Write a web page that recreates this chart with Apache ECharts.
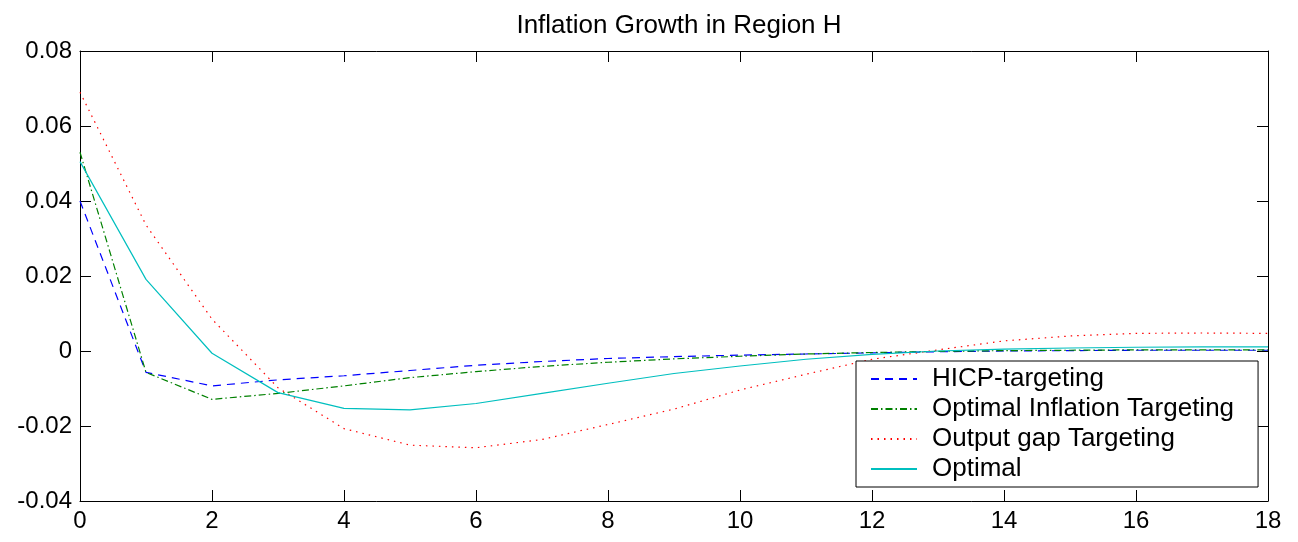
<!DOCTYPE html>
<html>
<head>
<meta charset="utf-8">
<script src="https://cdn.jsdelivr.net/npm/echarts@6/dist/echarts.min.js"></script>
<style>
  html, body { margin: 0; padding: 0; background: #fff; }
  #chart { width: 1298px; height: 542px; }
</style>
</head>
<body>
<div id="chart"></div>
<script>
// periods 0..18
const periods = [0, 1, 2, 3, 4, 5, 6, 7, 8, 9, 10, 11, 12, 13, 14, 15, 16, 17, 18];

const hicp = [0.0400, -0.0057, -0.0093, -0.0077, -0.0066, -0.0052, -0.0038, -0.0028, -0.0020,
  -0.0015, -0.0011, -0.0008, -0.0005, -0.0002, 0.0000, 0.0001, 0.0002, 0.0002, 0.0002];
const optInfl = [0.0530, -0.0057, -0.0129, -0.0113, -0.0093, -0.0071, -0.0055, -0.0041, -0.0030,
  -0.0021, -0.0014, -0.0008, -0.0004, -0.0001, 0.0001, 0.0002, 0.0003, 0.0003, 0.0003];
const outputGap = [0.0690, 0.0336, 0.0085, -0.0098, -0.0207, -0.0251, -0.0258, -0.0236, -0.0196,
  -0.0155, -0.0104, -0.0062, -0.0022, 0.0003, 0.0027, 0.0040, 0.0047, 0.0048, 0.0047];
const optimal = [0.0505, 0.0191, -0.0006, -0.0111, -0.0153, -0.0157, -0.0140, -0.0113, -0.0086,
  -0.0060, -0.0040, -0.0022, -0.0009, 0.0000, 0.0005, 0.0008, 0.0010, 0.0011, 0.0011];

const seriesNames = ['HICP-targeting', 'Optimal Inflation Targeting', 'Output gap Targeting', 'Optimal'];

const font = 'Liberation Sans, Arial, sans-serif';
const chart = echarts.init(document.getElementById('chart'));

const pairs = (ys) => periods.map((p, i) => [p, ys[i]]);

const mkLine = (name, ys, color, dash) => ({
  name: name,
  type: 'line',
  data: pairs(ys),
  symbol: 'none',
  smooth: false,
  lineStyle: { color: color, width: 1.2, type: dash },
  itemStyle: { color: color }
});

const yFmt = (v) => {
  if (Math.abs(v) < 1e-9) return '0';
  return v.toFixed(2);
};

// box axes: bottom/left carry labels, top/right only ticks
const boxAxis = (pos, extra) => Object.assign({
  type: 'value',
  position: pos,
  axisLine: { show: true, onZero: false, lineStyle: { color: '#000', width: 1 } },
  axisTick: { show: true, inside: true, length: 11, lineStyle: { color: '#000' } },
  axisLabel: { show: false },
  splitLine: { show: false }
}, extra);

const option = {
  animation: false,
  backgroundColor: '#fff',
  title: {
    text: 'Inflation Growth in Region H',
    left: 674,
    top: 8,
    textAlign: 'center',
    textStyle: { fontFamily: font, fontSize: 26, fontWeight: 'normal', color: '#000' }
  },
  grid: { left: 80, top: 51, width: 1188, height: 450, show: false },
  legend: {
    orient: 'vertical',
    left: 856,
    top: 361,
    data: seriesNames,
    itemWidth: 46,
    itemHeight: 12,
    itemGap: 4,
    padding: [5, 24, 5, 14],
    borderColor: '#000',
    borderWidth: 1,
    backgroundColor: '#fff',
    itemStyle: { opacity: 0 },
    textStyle: { fontFamily: font, fontSize: 26, color: '#000', padding: [0, 0, 0, 10] }
  },
  xAxis: [
    boxAxis('bottom', {
      min: 0, max: 18, interval: 2,
      axisLabel: { show: true, fontFamily: font, fontSize: 24, color: '#000', margin: 8 }
    }),
    boxAxis('top', { min: 0, max: 18, interval: 2 })
  ],
  yAxis: [
    boxAxis('left', {
      min: -0.04, max: 0.08, interval: 0.02,
      axisLabel: { show: true, fontFamily: font, fontSize: 24, color: '#000', margin: 8, formatter: yFmt }
    }),
    boxAxis('right', { min: -0.04, max: 0.08, interval: 0.02 })
  ],
  series: [
    mkLine(seriesNames[0], hicp, '#0000ff', [8, 6]),
    mkLine(seriesNames[1], optInfl, '#008000', [7, 3, 1.5, 3]),
    mkLine(seriesNames[2], outputGap, '#ff0000', [1.5, 5]),
    mkLine(seriesNames[3], optimal, '#00bfbf', 'solid')
  ]
};

chart.setOption(option);
</script>
</body>
</html>
